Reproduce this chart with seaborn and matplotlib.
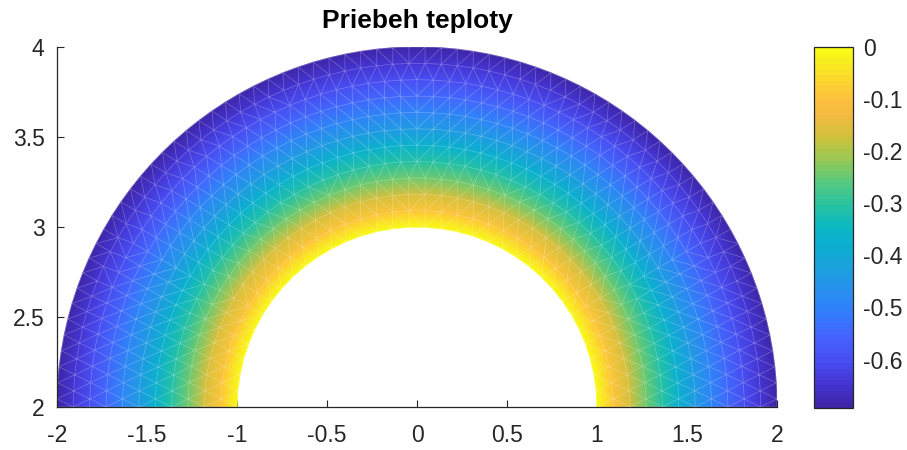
import numpy as np
import matplotlib
matplotlib.use("Agg")
import matplotlib.pyplot as plt
import matplotlib.tri as mtri
from matplotlib.colors import LinearSegmentedColormap, ListedColormap
import seaborn as sns

# Geometry of the half annulus and its boundary temperatures
inner_radius = 1.0
outer_radius = 2.0
center = (0.0, 2.0)
inner_temp = 0.0
outer_temp = -0.693
mesh_size = 0.09

x_ticks = [-2, -1.5, -1, -0.5, 0, 0.5, 1, 1.5, 2]
x_tick_labels = ["-2", "-1.5", "-1", "-0.5", "0", "0.5", "1", "1.5", "2"]
y_ticks = [2, 2.5, 3, 3.5, 4]
y_tick_labels = ["2", "2.5", "3", "3.5", "4"]
cbar_ticks = [0, -0.1, -0.2, -0.3, -0.4, -0.5, -0.6]
cbar_tick_labels = ["0", "-0.1", "-0.2", "-0.3", "-0.4", "-0.5", "-0.6"]
title = "Priebeh teploty"

# parula-like colormap
parula_stops = [
    (0.00, (0.2422, 0.1504, 0.6603)),
    (0.06, (0.2691, 0.2094, 0.8249)),
    (0.125, (0.2810, 0.3059, 0.9450)),
    (0.19, (0.2710, 0.3860, 0.9898)),
    (0.25, (0.2000, 0.4800, 0.9900)),
    (0.31, (0.1650, 0.5500, 0.9500)),
    (0.375, (0.1130, 0.6200, 0.8750)),
    (0.44, (0.0500, 0.6800, 0.8200)),
    (0.50, (0.0300, 0.7200, 0.7700)),
    (0.56, (0.1500, 0.7600, 0.6400)),
    (0.625, (0.3300, 0.7900, 0.5000)),
    (0.69, (0.5900, 0.7900, 0.3300)),
    (0.75, (0.8000, 0.7600, 0.2400)),
    (0.81, (0.9400, 0.7300, 0.2500)),
    (0.86, (0.9950, 0.7500, 0.2400)),
    (0.92, (0.9800, 0.8500, 0.1700)),
    (1.00, (0.9769, 0.9839, 0.0805)),
]
_smooth = LinearSegmentedColormap.from_list("parula_smooth", parula_stops)
parula = ListedColormap(_smooth(np.linspace(0, 1, 64)), name="parula")

# Triangular mesh: staggered rings of nodes between the two radii
n_rings = int(round((outer_radius - inner_radius) / mesh_size))
xs, ys, rs = [], [], []
for k in range(n_rings + 1):
    r = inner_radius + (outer_radius - inner_radius) * k / n_rings
    n_pts = int(round(np.pi * r / mesh_size)) + 1
    shift = 0.0 if k % 2 == 0 else 0.5
    inner_th = (np.arange(n_pts - 1) + shift) * np.pi / (n_pts - 1)
    th = np.unique(np.concatenate([[0.0, np.pi], inner_th]))
    xs.append(center[0] + r * np.cos(th))
    ys.append(center[1] + r * np.sin(th))
    rs.append(np.full(th.shape, r))
px = np.concatenate(xs)
py = np.concatenate(ys)
pr = np.concatenate(rs)

tri = mtri.Triangulation(px, py)
cx = px[tri.triangles].mean(axis=1) - center[0]
cy = py[tri.triangles].mean(axis=1) - center[1]
cr = np.hypot(cx, cy)
tri.set_mask((cr < inner_radius) | (cr > outer_radius))

# Steady-state (Laplace) radial temperature profile between the two boundaries
temp = inner_temp + (outer_temp - inner_temp) * np.log(pr / inner_radius) / np.log(outer_radius / inner_radius)

sns.set_style("ticks")
plt.rcParams["font.family"] = ["Liberation Sans", "DejaVu Sans"]
ink = "#262626"

fig = plt.figure(figsize=(9.07, 4.5), dpi=100)
ax = fig.add_axes([57 / 907, 43 / 450, 720 / 907, 360 / 450])
cax = fig.add_axes([814 / 907, 42 / 450, 39 / 907, 361 / 450])

mesh = ax.tripcolor(tri, temp, shading="gouraud", cmap=parula,
                    vmin=outer_temp, vmax=inner_temp, rasterized=True)
ax.triplot(tri, color="white", lw=0.45, alpha=0.3)

ax.set_xlim(-2, 2)
ax.set_ylim(2, 4)
ax.set_aspect("auto")
ax.set_xticks(x_ticks)
ax.set_xticklabels(x_tick_labels)
ax.set_yticks(y_ticks)
ax.set_yticklabels(y_tick_labels)
ax.tick_params(direction="in", length=5, width=0.8, color=ink,
               labelcolor=ink, labelsize=16.5)
ax.tick_params(axis="x", pad=12)
ax.tick_params(axis="y", pad=9)
for side in ("top", "right"):
    ax.spines[side].set_visible(False)
for side in ("left", "bottom"):
    ax.spines[side].set_color(ink)
    ax.spines[side].set_linewidth(0.9)
ax.set_title(title, fontsize=19, fontweight="bold", color="black", pad=14)

cb = fig.colorbar(mesh, cax=cax)
cb.set_ticks(cbar_ticks)
cb.set_ticklabels(cbar_tick_labels)
cb.outline.set_edgecolor(ink)
cb.outline.set_linewidth(0.9)
cax.tick_params(direction="in", length=4, width=0.8, color=ink,
                labelcolor=ink, labelsize=16.5, pad=7)

fig.savefig("out.png", dpi=100)
